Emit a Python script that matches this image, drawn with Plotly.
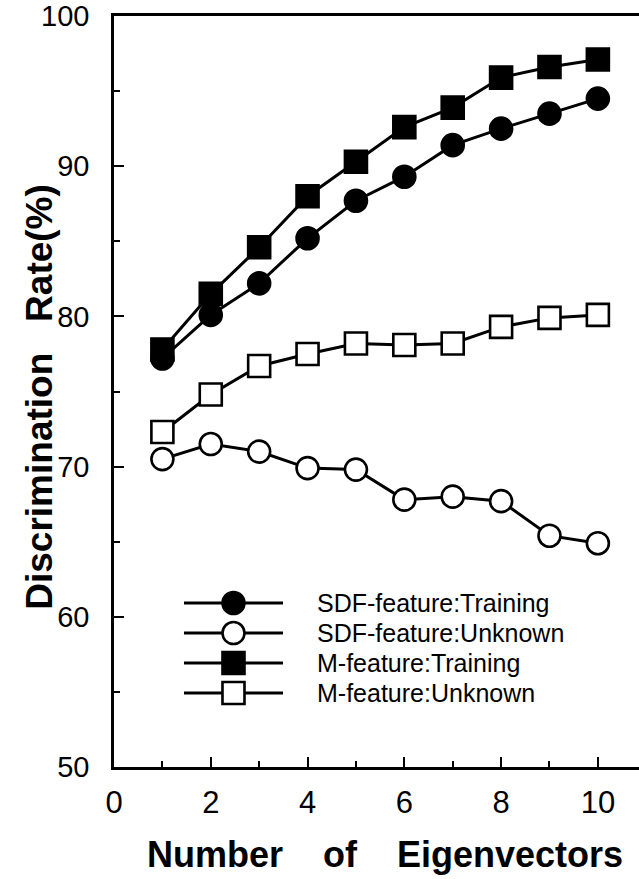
import plotly.graph_objects as go

# Discrimination rate (%) against the number of eigenvectors used
eigenvectors = [1, 2, 3, 4, 5, 6, 7, 8, 9, 10]
sdf_training = [77.2, 80.1, 82.2, 85.2, 87.7, 89.3, 91.4, 92.5, 93.5, 94.5]
sdf_unknown = [70.5, 71.5, 71.0, 69.9, 69.8, 67.8, 68.0, 67.7, 65.4, 64.9]
m_training = [77.8, 81.5, 84.6, 88.0, 90.3, 92.6, 93.9, 95.9, 96.6, 97.1]
m_unknown = [72.3, 74.8, 76.7, 77.5, 78.2, 78.1, 78.2, 79.3, 79.9, 80.1]

series_names = [
    "SDF-feature:Training",
    "SDF-feature:Unknown",
    "M-feature:Training",
    "M-feature:Unknown",
]
x_ticks = [0, 2, 4, 6, 8, 10]
y_ticks = [50, 60, 70, 80, 90, 100]

x_title = "Number\u00a0\u00a0\u00a0\u00a0of\u00a0\u00a0\u00a0\u00a0Eigenvectors"
y_title = "Discrimination\u00a0\u00a0\u00a0Rate(%)"

# ---- styling / layout constants ----
FONT = "Liberation Sans, Arial, Helvetica, sans-serif"
W, H = 639, 879
ML, MR, MT, MB = 114, 0, 16, 112
MARKER = 22
LINE_W = 3
OPEN_W = 2.6

series_values = [sdf_training, sdf_unknown, m_training, m_unknown]
series_styles = [
    dict(symbol="circle", color="black"),
    dict(symbol="circle", color="white"),
    dict(symbol="square", color="black"),
    dict(symbol="square", color="white"),
]

fig = go.Figure()

for name, vals, st in zip(series_names, series_values, series_styles):
    fig.add_trace(go.Scatter(
        x=eigenvectors, y=vals, name=name, mode="lines+markers",
        line=dict(color="black", width=LINE_W),
        marker=dict(symbol=st["symbol"], size=MARKER, color=st["color"],
                    line=dict(color="black", width=OPEN_W)),
        showlegend=False, hoverinfo="x+y+name",
    ))

# ---- hand-drawn key, placed on an overlay axis in fractions of the plot area ----
key_x0, key_xm, key_x1 = 0.1333, 0.2276, 0.3219
key_rows = [0.2184, 0.1784, 0.1385, 0.0985]
key_text_x = 0.3829

for row, name, st in zip(key_rows, series_names, series_styles):
    fig.add_trace(go.Scatter(
        x=[key_x0, key_x1], y=[row, row], mode="lines",
        line=dict(color="black", width=LINE_W),
        xaxis="x2", yaxis="y2", showlegend=False, hoverinfo="skip",
    ))
    fig.add_trace(go.Scatter(
        x=[key_xm], y=[row], mode="markers",
        marker=dict(symbol=st["symbol"], size=MARKER, color=st["color"],
                    line=dict(color="black", width=OPEN_W)),
        xaxis="x2", yaxis="y2", showlegend=False, hoverinfo="skip",
    ))

annotations = []
for row, name in zip(key_rows, series_names):
    annotations.append(dict(
        x=key_text_x, y=row, xref="paper", yref="paper", text=name,
        showarrow=False, xanchor="left", yanchor="middle",
        font=dict(family=FONT, size=25, color="black"),
    ))

annotations.append(dict(
    x=0.516, y=-0.117, xref="paper", yref="paper", text=x_title,
    showarrow=False, xanchor="center", yanchor="middle",
    font=dict(family=FONT, size=36, color="black", weight="bold"),
))
annotations.append(dict(
    x=-0.141, y=0.493, xref="paper", yref="paper", text=y_title,
    showarrow=False, xanchor="center", yanchor="middle", textangle=-90,
    font=dict(family=FONT, size=37, color="black", weight="bold"),
))

axis_common = dict(
    showline=True, linecolor="black", linewidth=2.5,
    showgrid=False, zeroline=False,
    ticks="inside", ticklen=10, tickwidth=2, tickcolor="black",
)

fig.update_layout(
    width=W, height=H,
    margin=dict(l=ML, r=MR, t=MT, b=MB),
    paper_bgcolor="white", plot_bgcolor="white",
    font=dict(family=FONT, color="black"),
    showlegend=False,
    annotations=annotations,
    xaxis=dict(
        range=[0, 10.85], tickvals=x_ticks, mirror=True,
        minor=dict(dtick=1, tick0=0, ticks="inside", ticklen=6,
                   tickwidth=2, tickcolor="black"),
        tickfont=dict(family=FONT, size=31, color="black"),
        ticklabelstandoff=6,
        **axis_common,
    ),
    yaxis=dict(
        range=[50, 100], tickvals=y_ticks,
        minor=dict(dtick=5, tick0=50, ticks="inside", ticklen=6,
                   tickwidth=2, tickcolor="black"),
        tickfont=dict(family=FONT, size=29, color="black"),
        ticklabelstandoff=16,
        **axis_common,
    ),
    xaxis2=dict(overlaying="x", range=[0, 1], visible=False, anchor="y2"),
    yaxis2=dict(overlaying="y", range=[0, 1], visible=False, anchor="x2"),
)

fig.write_html("out.html")
